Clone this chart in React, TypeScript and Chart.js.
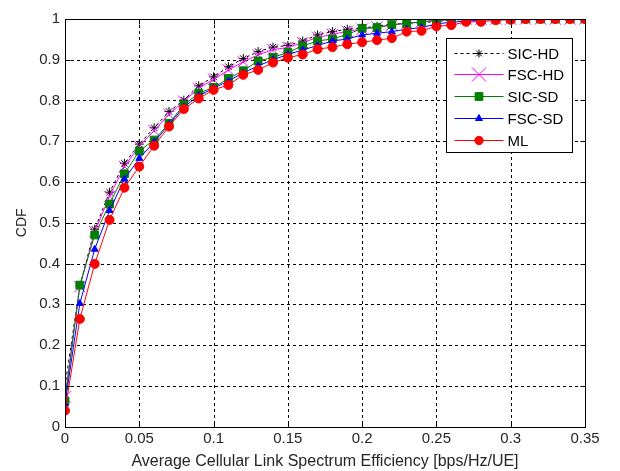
import React, { useEffect, useRef } from "react";
import { Chart, registerables } from "chart.js";
import { drawPoint } from "chart.js/helpers";

Chart.register(...registerables);

const xValues = [
  0, 0.01, 0.02, 0.03, 0.04, 0.05, 0.06, 0.07, 0.08, 0.09, 0.1, 0.11, 0.12,
  0.13, 0.14, 0.15, 0.16, 0.17, 0.18, 0.19, 0.2, 0.21, 0.22, 0.23, 0.24, 0.25,
  0.26, 0.27, 0.28, 0.29, 0.3, 0.31, 0.32, 0.33, 0.34, 0.35,
];

const sicHd = [
  0.099, 0.345, 0.484, 0.575, 0.646, 0.693, 0.733, 0.773, 0.801, 0.836, 0.858,
  0.883, 0.903, 0.92, 0.931, 0.935, 0.946, 0.961, 0.969, 0.975, 0.978, 0.982,
  0.987, 0.99, 0.991, 0.994, 0.997, 0.999, 1, 1, 1, 1, 1, 1, 1, 1,
];
const fscHd = [
  0.073, 0.343, 0.478, 0.565, 0.638, 0.688, 0.726, 0.766, 0.798, 0.83, 0.852,
  0.875, 0.895, 0.912, 0.925, 0.93, 0.942, 0.955, 0.962, 0.97, 0.975, 0.98,
  0.985, 0.99, 0.993, 0.996, 0.998, 1, 1, 1, 1, 1, 1, 1, 1, 1,
];
const sicSd = [
  0.063, 0.347, 0.47, 0.546, 0.62, 0.676, 0.703, 0.744, 0.789, 0.818, 0.832,
  0.854, 0.873, 0.897, 0.906, 0.918, 0.934, 0.946, 0.951, 0.962, 0.977, 0.979,
  0.986, 0.989, 0.993, 0.997, 0.999, 1, 1, 1, 1, 1, 1, 1, 1, 1,
];
const fscSd = [
  0.055, 0.302, 0.435, 0.53, 0.607, 0.658, 0.698, 0.741, 0.784, 0.812, 0.83,
  0.848, 0.868, 0.885, 0.9, 0.913, 0.924, 0.935, 0.946, 0.951, 0.961, 0.965,
  0.969, 0.975, 0.979, 0.988, 0.992, 0.995, 0.997, 0.999, 1, 1, 1, 1, 1, 1,
];
const ml = [
  0.039, 0.264, 0.399, 0.507, 0.586, 0.638, 0.689, 0.736, 0.779, 0.805, 0.826,
  0.838, 0.863, 0.875, 0.893, 0.905, 0.913, 0.926, 0.931, 0.938, 0.943, 0.948,
  0.953, 0.969, 0.971, 0.982, 0.985, 0.993, 0.993, 0.997, 0.998, 1, 1, 1, 1, 1,
];

const seriesNames = ["SIC-HD", "FSC-HD", "SIC-SD", "FSC-SD", "ML"];

const xTickValues = [0, 0.05, 0.1, 0.15, 0.2, 0.25, 0.3, 0.35];
const xTickLabels = ["0", "0.05", "0.1", "0.15", "0.2", "0.25", "0.3", "0.35"];
const yTickValues = [0, 0.1, 0.2, 0.3, 0.4, 0.5, 0.6, 0.7, 0.8, 0.9, 1];
const yTickLabels = ["0", "0.1", "0.2", "0.3", "0.4", "0.5", "0.6", "0.7", "0.8", "0.9", "1"];

const xTitle = "Average Cellular Link Spectrum Efficiency [bps/Hz/UE]";
const yTitle = "CDF";

const FONT = "'Liberation Sans', Arial, Helvetica, sans-serif";
const TEXT = "#262626";

const toPoints = (ys: number[]) => xValues.map((x, i) => ({ x, y: ys[i] }));

const framePlugin = {
  id: "matlabFrame",
  beforeDatasetsDraw(chart: any) {
    const { ctx, chartArea: a, scales } = chart;
    ctx.save();
    ctx.strokeStyle = "#000";
    ctx.lineWidth = 1;
    ctx.setLineDash([3, 3]);
    xTickValues.forEach((v) => {
      const px = Math.round(scales.x.getPixelForValue(v)) + 0.5;
      if (px < a.left + 2 || px > a.right - 2) return;
      ctx.beginPath();
      ctx.moveTo(px, a.top);
      ctx.lineTo(px, a.bottom);
      ctx.stroke();
    });
    yTickValues.forEach((v) => {
      const py = Math.round(scales.y.getPixelForValue(v)) + 0.5;
      if (py < a.top + 2 || py > a.bottom - 2) return;
      ctx.beginPath();
      ctx.moveTo(a.left, py);
      ctx.lineTo(a.right, py);
      ctx.stroke();
    });
    ctx.restore();
  },
  afterDatasetsDraw(chart: any) {
    const { ctx, chartArea: a, scales } = chart;
    ctx.save();
    ctx.strokeStyle = "#000";
    ctx.lineWidth = 1;
    ctx.setLineDash([]);
    const L = Math.round(a.left) + 0.5;
    const R = Math.round(a.right) + 0.5;
    const T = Math.round(a.top) + 0.5;
    const B = Math.round(a.bottom) + 0.5;
    ctx.strokeRect(L, T, R - L, B - T);
    const tl = 5;
    xTickValues.forEach((v) => {
      const px = Math.round(scales.x.getPixelForValue(v)) + 0.5;
      ctx.beginPath();
      ctx.moveTo(px, B);
      ctx.lineTo(px, B - tl);
      ctx.moveTo(px, T);
      ctx.lineTo(px, T + tl);
      ctx.stroke();
    });
    yTickValues.forEach((v) => {
      const py = Math.round(scales.y.getPixelForValue(v)) + 0.5;
      ctx.beginPath();
      ctx.moveTo(L, py);
      ctx.lineTo(L + tl, py);
      ctx.moveTo(R, py);
      ctx.lineTo(R - tl, py);
      ctx.stroke();
    });

    // legend box inside the axes (upper right)
    const boxL = a.right - 138.5;
    const boxT = a.top + 19.5;
    const boxW = 126;
    const rowH = 21.8;
    const boxH = 114;
    ctx.fillStyle = "#fff";
    ctx.fillRect(boxL, boxT, boxW, boxH);
    ctx.strokeRect(boxL, boxT, boxW, boxH);
    chart.data.datasets.forEach((ds: any, i: number) => {
      const cy = Math.round(boxT + 14 + i * rowH) + 0.5;
      const x1 = boxL + 8;
      const x2 = boxL + 57;
      ctx.save();
      ctx.strokeStyle = ds.borderColor;
      ctx.lineWidth = 1;
      ctx.setLineDash(ds.borderDash || []);
      ctx.beginPath();
      ctx.moveTo(x1, cy);
      ctx.lineTo(x2, cy);
      ctx.stroke();
      ctx.setLineDash([]);
      ctx.fillStyle = ds.pointBackgroundColor;
      ctx.strokeStyle = ds.pointBorderColor;
      ctx.lineWidth = 1;
      drawPoint(ctx, { pointStyle: ds.pointStyle, radius: ds.legendRadius, rotation: 0, borderWidth: 1 } as any, (x1 + x2) / 2, cy);
      ctx.restore();
      ctx.fillStyle = "#000";
      ctx.font = `15px ${FONT}`;
      ctx.textBaseline = "middle";
      ctx.textAlign = "left";
      ctx.fillText(seriesNames[i], boxL + 61, cy + 1);
    });
    ctx.restore();
  },
};

export default function App() {
  const ref = useRef<HTMLCanvasElement | null>(null);

  useEffect(() => {
    if (!ref.current) return;
    const common = { borderWidth: 1, fill: false, tension: 0, pointBorderWidth: 1 };
    const chart = new Chart(ref.current, {
      type: "line",
      data: {
        datasets: [
          {
            ...common,
            label: seriesNames[0],
            data: toPoints(sicHd),
            borderColor: "#000000",
            borderDash: [3, 3],
            pointStyle: "star",
            pointRadius: 4.5,
            legendRadius: 4,
            pointBackgroundColor: "#000000",
            pointBorderColor: "#000000",
            order: 5,
          },
          {
            ...common,
            label: seriesNames[1],
            data: toPoints(fscHd),
            borderColor: "#ff00ff",
            pointStyle: "crossRot",
            pointRadius: 8,
            legendRadius: 10,
            pointBackgroundColor: "#ff00ff",
            pointBorderColor: "#ff00ff",
            order: 4,
          },
          {
            ...common,
            label: seriesNames[2],
            data: toPoints(sicSd),
            borderColor: "#008000",
            pointStyle: "rect",
            pointRadius: 5.5,
            legendRadius: 5.5,
            pointBackgroundColor: "#008000",
            pointBorderColor: "#008000",
            order: 3,
          },
          {
            ...common,
            label: seriesNames[3],
            data: toPoints(fscSd),
            borderColor: "#0000ff",
            pointStyle: "triangle",
            pointRadius: 4,
            legendRadius: 4,
            pointBackgroundColor: "#0000ff",
            pointBorderColor: "#0000ff",
            order: 2,
          },
          {
            ...common,
            label: seriesNames[4],
            data: toPoints(ml),
            borderColor: "#ff0000",
            pointStyle: "circle",
            pointRadius: 4.5,
            legendRadius: 4.2,
            pointBackgroundColor: "#ff0000",
            pointBorderColor: "#ff0000",
            order: 1,
          },
        ] as any,
      },
      options: {
        animation: false,
        responsive: false,
        maintainAspectRatio: false,
        devicePixelRatio: 1,
        layout: { padding: { left: 0, right: 35, top: 19, bottom: 0 } },
        plugins: { legend: { display: false }, tooltip: { enabled: false } },
        scales: {
          x: {
            type: "linear",
            min: 0,
            max: 0.35,
            afterBuildTicks: (s: any) => {
              s.ticks = xTickValues.map((v) => ({ value: v }));
            },
            afterFit: (s: any) => {
              s.height = 44.5;
            },
            ticks: {
              callback: (_v: any, i: number) => xTickLabels[i],
              color: TEXT,
              font: { family: FONT, size: 15 },
              padding: 3,
              maxRotation: 0,
              autoSkip: false,
            },
            grid: { display: false, drawTicks: false },
            border: { display: false },
            title: {
              display: true,
              text: xTitle,
              color: TEXT,
              font: { family: FONT, size: 16 },
              padding: { top: 0, bottom: 0 },
            },
          },
          y: {
            type: "linear",
            min: 0,
            max: 1,
            afterBuildTicks: (s: any) => {
              s.ticks = yTickValues.map((v) => ({ value: v }));
            },
            afterFit: (s: any) => {
              s.width = 65;
            },
            ticks: {
              callback: (_v: any, i: number) => yTickLabels[i],
              color: TEXT,
              font: { family: FONT, size: 15 },
              padding: 5,
              autoSkip: false,
            },
            grid: { display: false, drawTicks: false },
            border: { display: false },
            title: {
              display: true,
              text: yTitle,
              color: TEXT,
              font: { family: FONT, size: 14 },
              padding: { top: 14, bottom: 0 },
            },
          },
        },
      } as any,
      plugins: [framePlugin],
    });
    return () => chart.destroy();
  }, []);

  return (
    <div style={{ position: "fixed", left: 0, top: 0, width: 620, height: 471, background: "#fff" }}>
      <canvas ref={ref} width={620} height={471} style={{ width: 620, height: 471 }} />
    </div>
  );
}
